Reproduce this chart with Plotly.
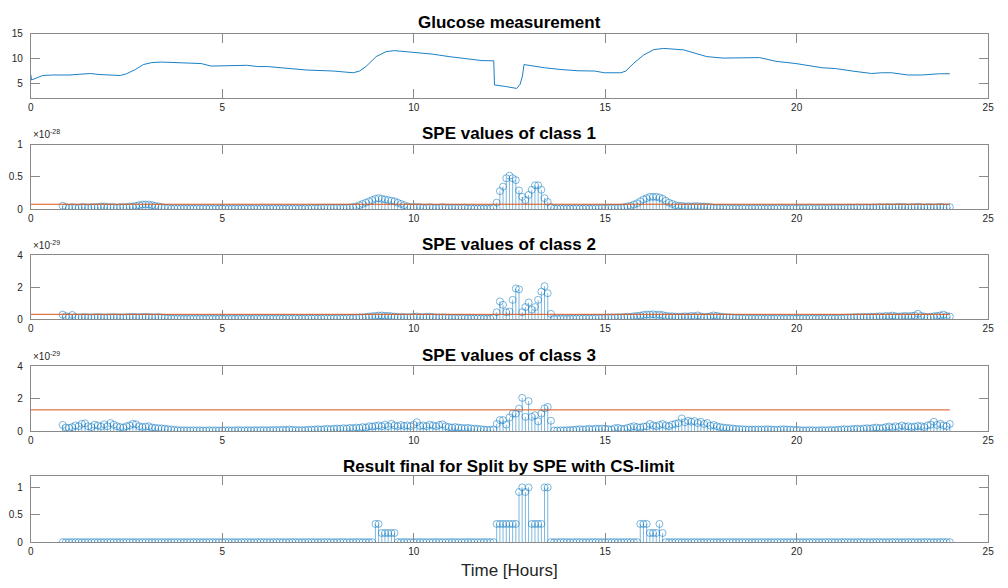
import plotly.graph_objects as go

# ---------------- data ----------------
# Glucose measurement (hours, mmol/L) read at breakpoints
glu_t = [0.0, 0.02, 0.31, 0.57, 1.0, 1.35, 1.56, 1.78, 2.12, 2.34, 2.5, 2.73, 2.94, 3.16, 3.42, 3.76,
         4.28, 4.45, 4.71, 5.31, 5.66, 5.92, 6.18, 6.61, 7.21, 7.9, 8.42, 8.59, 8.76, 9.02, 9.28, 9.5,
         9.8, 10.14, 10.49, 10.92, 11.35, 11.78, 12.09, 12.11, 12.39, 12.69, 12.78, 12.84, 12.88, 13.42,
         13.85, 14.29, 14.72, 14.98, 15.41, 15.54, 15.75, 16.01, 16.27, 16.53, 17.05, 17.65, 18.08, 18.6,
         19.03, 19.46, 19.98, 20.67, 21.01, 21.45, 21.96, 22.22, 22.48, 22.91, 23.26, 23.73, 24.0]
glu_v = [6.8, 5.7, 6.6, 6.7, 6.7, 6.8, 7.0, 6.8, 6.75, 6.6, 6.95, 7.8, 8.8, 9.2, 9.3, 9.25,
         9.1, 9.0, 8.5, 8.6, 8.65, 8.4, 8.4, 8.1, 7.7, 7.5, 7.15, 7.5, 8.45, 10.4, 11.4, 11.6,
         11.4, 11.25, 10.9, 10.4, 9.95, 9.6, 9.55, 4.7, 4.4, 4.0, 4.85, 6.5, 8.8, 8.15,
         7.8, 7.55, 7.5, 7.15, 7.15, 7.5, 9.1, 10.75, 11.8, 12.05, 11.75, 10.4, 10.1, 10.2,
         10.2, 9.45, 9.0, 8.15, 8.0, 7.5, 7.0, 7.15, 7.15, 6.7, 6.7, 6.95, 6.95]

# SPE sample times: every 5 minutes from 50 min to 24 h
spe_step_h = 1 / 12
spe_first_index = 10
spe_count = 279
spe_t = [(spe_first_index + k) * spe_step_h for k in range(spe_count)]

# SPE class 1 (x 1e-28), one row per hour
spe1_rows = [
    [0.05, 0.03, 0.02],
    [0.03, 0.02, 0.02, 0.03, 0.03, 0.02, 0.03, 0.03, 0.03, 0.04, 0.04, 0.03],
    [0.03, 0.03, 0.02, 0.03, 0.03, 0.03, 0.04, 0.04, 0.05, 0.06, 0.07, 0.07],
    [0.07, 0.06, 0.05, 0.04, 0.03, 0.02, 0.02, 0.01, 0.01, 0.01, 0.01, 0.01],
    [0.01, 0.01, 0.008, 0.01, 0.01, 0.012, 0.01, 0.01, 0.008, 0.01, 0.01, 0.01],
    [0.01, 0.008, 0.01, 0.01, 0.01, 0.01, 0.012, 0.01, 0.01, 0.01, 0.008, 0.01],
    [0.01, 0.01, 0.01, 0.012, 0.01, 0.01, 0.01, 0.01, 0.012, 0.01, 0.01, 0.01],
    [0.01, 0.012, 0.01, 0.015, 0.015, 0.015, 0.02, 0.02, 0.018, 0.02, 0.02, 0.02],
    [0.02, 0.02, 0.022, 0.025, 0.03, 0.04, 0.06, 0.08, 0.10, 0.12, 0.14, 0.16],
    [0.17, 0.16, 0.15, 0.14, 0.13, 0.12, 0.10, 0.08, 0.06, 0.04, 0.03, 0.03],
    [0.03, 0.03, 0.02, 0.02, 0.03, 0.02, 0.02, 0.02, 0.03, 0.02, 0.02, 0.02],
    [0.02, 0.02, 0.02, 0.02, 0.015, 0.015, 0.01, 0.01, 0.01, 0.01, 0.01, 0.01],
    [0.02, 0.10, 0.28, 0.35, 0.48, 0.52, 0.48, 0.45, 0.29, 0.19, 0.14, 0.22],
    [0.30, 0.37, 0.37, 0.30, 0.17, 0.11, 0.03, 0.01, 0.01, 0.01, 0.01, 0.01],
    [0.01, 0.01, 0.012, 0.01, 0.01, 0.015, 0.01, 0.012, 0.015, 0.015, 0.02, 0.015],
    [0.02, 0.02, 0.018, 0.02, 0.02, 0.03, 0.04, 0.05, 0.07, 0.09, 0.12, 0.15],
    [0.17, 0.19, 0.19, 0.19, 0.18, 0.16, 0.13, 0.10, 0.08, 0.06, 0.05, 0.05],
    [0.04, 0.045, 0.04, 0.045, 0.045, 0.04, 0.04, 0.035, 0.03, 0.02, 0.02, 0.02],
    [0.02, 0.018, 0.015, 0.015, 0.015, 0.012, 0.015, 0.015, 0.012, 0.015, 0.015, 0.015],
    [0.015, 0.012, 0.015, 0.015, 0.012, 0.015, 0.015, 0.015, 0.012, 0.015, 0.015, 0.018],
    [0.015, 0.018, 0.015, 0.02, 0.015, 0.015, 0.018, 0.02, 0.015, 0.018, 0.02, 0.02],
    [0.02, 0.018, 0.02, 0.02, 0.022, 0.02, 0.025, 0.02, 0.022, 0.025, 0.02, 0.025],
    [0.025, 0.03, 0.025, 0.03, 0.03, 0.025, 0.03, 0.035, 0.03, 0.03, 0.025, 0.03],
    [0.03, 0.035, 0.03, 0.025, 0.03, 0.03, 0.025, 0.03, 0.035, 0.03, 0.025, 0.03],
]

# SPE class 2 (x 1e-29)
spe2_rows = [
    [0.30, 0.20, 0.15],
    [0.28, 0.15, 0.12, 0.14, 0.15, 0.13, 0.12, 0.14, 0.15, 0.14, 0.12, 0.13],
    [0.14, 0.15, 0.13, 0.14, 0.12, 0.14, 0.15, 0.16, 0.15, 0.14, 0.15, 0.16],
    [0.15, 0.14, 0.13, 0.15, 0.12, 0.10, 0.08, 0.07, 0.06, 0.06, 0.05, 0.05],
    [0.05, 0.06, 0.05, 0.05, 0.06, 0.05, 0.05, 0.06, 0.05, 0.05, 0.06, 0.05],
    [0.05, 0.05, 0.06, 0.05, 0.06, 0.05, 0.06, 0.06, 0.05, 0.06, 0.06, 0.06],
    [0.06, 0.06, 0.07, 0.06, 0.06, 0.07, 0.06, 0.07, 0.07, 0.06, 0.07, 0.07],
    [0.07, 0.07, 0.08, 0.07, 0.08, 0.07, 0.08, 0.08, 0.07, 0.08, 0.08, 0.08],
    [0.08, 0.08, 0.09, 0.10, 0.10, 0.11, 0.12, 0.13, 0.15, 0.18, 0.20, 0.22],
    [0.24, 0.25, 0.23, 0.22, 0.20, 0.18, 0.16, 0.15, 0.15, 0.14, 0.15, 0.16],
    [0.18, 0.15, 0.14, 0.16, 0.17, 0.15, 0.13, 0.12, 0.13, 0.12, 0.11, 0.10],
    [0.10, 0.09, 0.10, 0.09, 0.08, 0.08, 0.07, 0.07, 0.06, 0.06, 0.05, 0.06],
    [0.12, 0.45, 1.12, 0.91, 0.45, 0.49, 1.22, 1.93, 1.87, 0.45, 0.77, 1.05],
    [0.61, 0.77, 1.22, 1.73, 2.07, 1.63, 0.35, 0.05, 0.04, 0.05, 0.05, 0.04],
    [0.05, 0.06, 0.06, 0.07, 0.07, 0.08, 0.08, 0.08, 0.09, 0.10, 0.10, 0.11],
    [0.12, 0.12, 0.12, 0.14, 0.13, 0.15, 0.17, 0.16, 0.20, 0.22, 0.24, 0.28],
    [0.30, 0.30, 0.32, 0.28, 0.30, 0.27, 0.22, 0.20, 0.20, 0.18, 0.17, 0.18],
    [0.20, 0.18, 0.22, 0.20, 0.25, 0.18, 0.15, 0.17, 0.20, 0.25, 0.22, 0.18],
    [0.16, 0.14, 0.13, 0.12, 0.10, 0.10, 0.09, 0.09, 0.08, 0.08, 0.07, 0.07],
    [0.07, 0.06, 0.07, 0.06, 0.06, 0.07, 0.06, 0.06, 0.07, 0.06, 0.06, 0.07],
    [0.06, 0.07, 0.06, 0.07, 0.07, 0.06, 0.07, 0.08, 0.07, 0.08, 0.08, 0.08],
    [0.08, 0.09, 0.10, 0.12, 0.12, 0.14, 0.15, 0.14, 0.16, 0.15, 0.17, 0.16],
    [0.18, 0.20, 0.18, 0.22, 0.20, 0.24, 0.20, 0.18, 0.20, 0.22, 0.20, 0.22],
    [0.24, 0.35, 0.22, 0.18, 0.15, 0.17, 0.20, 0.22, 0.25, 0.30, 0.22, 0.18],
]

# SPE class 3 (x 1e-29)
spe3_rows = [
    [0.38, 0.22, 0.20],
    [0.25, 0.35, 0.30, 0.45, 0.48, 0.30, 0.25, 0.40, 0.35, 0.28, 0.42, 0.30],
    [0.50, 0.40, 0.30, 0.25, 0.22, 0.30, 0.35, 0.45, 0.42, 0.30, 0.25, 0.28],
    [0.30, 0.22, 0.20, 0.18, 0.17, 0.15, 0.12, 0.10, 0.08, 0.06, 0.05, 0.05],
    [0.05, 0.04, 0.05, 0.04, 0.05, 0.04, 0.04, 0.05, 0.04, 0.05, 0.04, 0.05],
    [0.05, 0.05, 0.04, 0.05, 0.06, 0.05, 0.05, 0.06, 0.05, 0.06, 0.05, 0.06],
    [0.06, 0.05, 0.06, 0.07, 0.06, 0.07, 0.08, 0.07, 0.10, 0.08, 0.07, 0.06],
    [0.06, 0.07, 0.08, 0.09, 0.10, 0.12, 0.10, 0.12, 0.14, 0.12, 0.15, 0.16],
    [0.15, 0.18, 0.16, 0.20, 0.18, 0.22, 0.20, 0.25, 0.22, 0.30, 0.28, 0.32],
    [0.35, 0.30, 0.40, 0.30, 0.45, 0.35, 0.30, 0.38, 0.32, 0.35, 0.30, 0.40],
    [0.55, 0.32, 0.35, 0.30, 0.40, 0.35, 0.30, 0.38, 0.42, 0.30, 0.25, 0.22],
    [0.25, 0.22, 0.20, 0.18, 0.20, 0.17, 0.15, 0.14, 0.12, 0.10, 0.08, 0.08],
    [0.10, 0.44, 0.68, 0.68, 0.40, 0.84, 1.08, 1.08, 1.39, 2.05, 0.88, 1.85],
    [0.88, 0.98, 0.60, 1.08, 1.40, 1.49, 0.64, 0.04, 0.04, 0.05, 0.05, 0.06],
    [0.06, 0.08, 0.10, 0.12, 0.10, 0.12, 0.14, 0.12, 0.15, 0.14, 0.16, 0.15],
    [0.12, 0.10, 0.18, 0.20, 0.15, 0.14, 0.20, 0.25, 0.30, 0.25, 0.22, 0.28],
    [0.30, 0.44, 0.35, 0.30, 0.38, 0.44, 0.35, 0.30, 0.40, 0.45, 0.50, 0.78],
    [0.55, 0.64, 0.58, 0.62, 0.50, 0.58, 0.44, 0.50, 0.34, 0.38, 0.30, 0.25],
    [0.22, 0.20, 0.18, 0.16, 0.14, 0.12, 0.12, 0.10, 0.10, 0.09, 0.10, 0.10],
    [0.10, 0.10, 0.12, 0.10, 0.09, 0.08, 0.10, 0.12, 0.10, 0.09, 0.08, 0.07],
    [0.06, 0.05, 0.05, 0.06, 0.05, 0.04, 0.05, 0.06, 0.05, 0.06, 0.07, 0.06],
    [0.08, 0.10, 0.12, 0.10, 0.12, 0.14, 0.15, 0.12, 0.16, 0.18, 0.15, 0.20],
    [0.22, 0.18, 0.20, 0.25, 0.28, 0.22, 0.30, 0.25, 0.35, 0.28, 0.30, 0.25],
    [0.28, 0.32, 0.30, 0.25, 0.35, 0.40, 0.58, 0.38, 0.45, 0.35, 0.30, 0.44],
]

# Final result
res_rows = [
    [0, 0, 0],
    [0, 0, 0, 0, 0, 0, 0, 0, 0, 0, 0, 0],
    [0, 0, 0, 0, 0, 0, 0, 0, 0, 0, 0, 0],
    [0, 0, 0, 0, 0, 0, 0, 0, 0, 0, 0, 0],
    [0, 0, 0, 0, 0, 0, 0, 0, 0, 0, 0, 0],
    [0, 0, 0, 0, 0, 0, 0, 0, 0, 0, 0, 0],
    [0, 0, 0, 0, 0, 0, 0, 0, 0, 0, 0, 0],
    [0, 0, 0, 0, 0, 0, 0, 0, 0, 0, 0, 0],
    [0, 0, 0, 0, 0, 0, 0, 0, 0, 0, 0, 0.333],
    [0.333, 0.167, 0.167, 0.167, 0.167, 0.167, 0, 0, 0, 0, 0, 0],
    [0, 0, 0, 0, 0, 0, 0, 0, 0, 0, 0, 0],
    [0, 0, 0, 0, 0, 0, 0, 0, 0, 0, 0, 0],
    [0, 0.333, 0.333, 0.333, 0.333, 0.333, 0.333, 0.333, 0.917, 1.0, 0.917, 1.0],
    [0.333, 0.333, 0.333, 0.333, 1.0, 1.0, 0, 0, 0, 0, 0, 0],
    [0, 0, 0, 0, 0, 0, 0, 0, 0, 0, 0, 0],
    [0, 0, 0, 0, 0, 0, 0, 0, 0, 0, 0.333, 0.333],
    [0.333, 0.167, 0.167, 0.167, 0.333, 0.167, 0, 0, 0, 0, 0, 0],
    [0, 0, 0, 0, 0, 0, 0, 0, 0, 0, 0, 0],
    [0, 0, 0, 0, 0, 0, 0, 0, 0, 0, 0, 0],
    [0, 0, 0, 0, 0, 0, 0, 0, 0, 0, 0, 0],
    [0, 0, 0, 0, 0, 0, 0, 0, 0, 0, 0, 0],
    [0, 0, 0, 0, 0, 0, 0, 0, 0, 0, 0, 0],
    [0, 0, 0, 0, 0, 0, 0, 0, 0, 0, 0, 0],
    [0, 0, 0, 0, 0, 0, 0, 0, 0, 0, 0, 0],
]

# control limits
limit_t = [0, 24]
limit1 = 0.075   # x 1e-28
limit2 = 0.32    # x 1e-29
limit3 = 1.31    # x 1e-29

titles = ["Glucose measurement", "SPE values of class 1", "SPE values of class 2",
          "SPE values of class 3", "Result final for Split by SPE with CS-limit"]
x_ticks = [0, 5, 10, 15, 20, 25]


def flat(rows):
    out = [v for r in rows for v in r]
    assert len(out) == spe_count, len(out)
    return out


spe1 = flat(spe1_rows)
spe2 = flat(spe2_rows)
spe3 = flat(spe3_rows)
res = flat(res_rows)

# ---------------- figure ----------------
W, H = 1008, 588
BLUE = "#0072BD"
STEM = "rgba(0,114,189,0.85)"
ORANGE = "#D95319"
AX = "#8a8a8a"
TXT = "#262626"
FONT = "Liberation Sans"

x_left, x_right = 28, 994
# (top, bottom) of each axes in pixels
boxes = [(28.3, 94.3), (141.7, 207.3), (254.3, 320.0), (367.7, 434.0), (480.3, 547.3)]
title_y = [16.5, 130.0, 243.5, 356.5, 470.0]
yranges = [[2, 15], [0, 1], [0, 4], [0, 4], [0, 1.2]]
yticks = [[5, 10, 15], [0, 0.5, 1], [0, 2, 4], [0, 2, 4], [0, 0.5, 1]]

fig = go.Figure()


def stem(t, v, idx):
    xs, ys = [], []
    for a, b in zip(t, v):
        xs += [a, a, None]
        ys += [0, b, None]
    sfx = "" if idx == 1 else str(idx)
    fig.add_trace(go.Scatter(x=xs, y=ys, mode="lines", line=dict(color=STEM, width=0.6),
                             xaxis="x" + sfx, yaxis="y" + sfx, hoverinfo="skip", showlegend=False))
    fig.add_trace(go.Scatter(x=t, y=v, mode="markers",
                             marker=dict(symbol="circle-open", size=7, color=STEM, line=dict(width=0.6)),
                             xaxis="x" + sfx, yaxis="y" + sfx, showlegend=False))


def limit(val, idx):
    sfx = str(idx)
    fig.add_trace(go.Scatter(x=limit_t, y=[val, val], mode="lines", line=dict(color=ORANGE, width=1),
                             xaxis="x" + sfx, yaxis="y" + sfx, showlegend=False))


fig.add_trace(go.Scatter(x=glu_t, y=glu_v, mode="lines", line=dict(color=BLUE, width=0.9),
                         xaxis="x", yaxis="y", showlegend=False))
stem(spe_t, spe1, 2)
limit(limit1, 2)
stem(spe_t, spe2, 3)
limit(limit2, 3)
stem(spe_t, spe3, 4)
limit(limit3, 4)
stem(spe_t, res, 5)

layout = dict(width=W, height=H, margin=dict(l=0, r=0, t=0, b=0),
              paper_bgcolor="white", plot_bgcolor="white",
              font=dict(family=FONT, color=TXT, size=10), showlegend=False)

annotations = []
for i in range(5):
    sfx = "" if i == 0 else str(i + 1)
    top, bot = boxes[i]
    layout["xaxis" + sfx] = dict(domain=[x_left / W, x_right / W], range=[0, 25], tickvals=x_ticks,
                                 ticks="inside", ticklen=9, tickcolor=AX, showline=True, linecolor=AX,
                                 linewidth=1, mirror="ticks", showgrid=False, zeroline=False,
                                 anchor="y" + sfx, tickfont=dict(size=10, color=TXT),
                                 ticklabelstandoff=0)
    layout["yaxis" + sfx] = dict(domain=[1 - bot / H, 1 - top / H], range=yranges[i], tickvals=yticks[i],
                                 ticks="inside", ticklen=9, tickcolor=AX, showline=True, linecolor=AX,
                                 linewidth=1, mirror="ticks", showgrid=False, zeroline=False,
                                 anchor="x" + sfx, tickfont=dict(size=10, color=TXT),
                                 ticklabelstandoff=5)
    annotations.append(dict(text="<b>" + titles[i] + "</b>", x=(x_left + x_right) / 2 / W,
                            y=1 - title_y[i] / H, xref="paper", yref="paper", xanchor="center",
                            yanchor="middle", showarrow=False, font=dict(size=17, color="black", family=FONT)))

for txt, ypx in [("×10<sup>-28</sup>", 130.5), ("×10<sup>-29</sup>", 243.5), ("×10<sup>-29</sup>", 357.0)]:
    annotations.append(dict(text=txt, x=x_left / W, y=1 - ypx / H, xref="paper", yref="paper",
                            xanchor="left", yanchor="middle", showarrow=False,
                            font=dict(size=10, color=TXT, family=FONT)))

annotations.append(dict(text="Time [Hours]", x=(x_left + x_right) / 2 / W, y=1 - 576 / H,
                        xref="paper", yref="paper", xanchor="center", yanchor="middle", showarrow=False,
                        font=dict(size=17, color=TXT, family=FONT)))
layout["annotations"] = annotations
fig.update_layout(**layout)
fig.write_html("out.html")
